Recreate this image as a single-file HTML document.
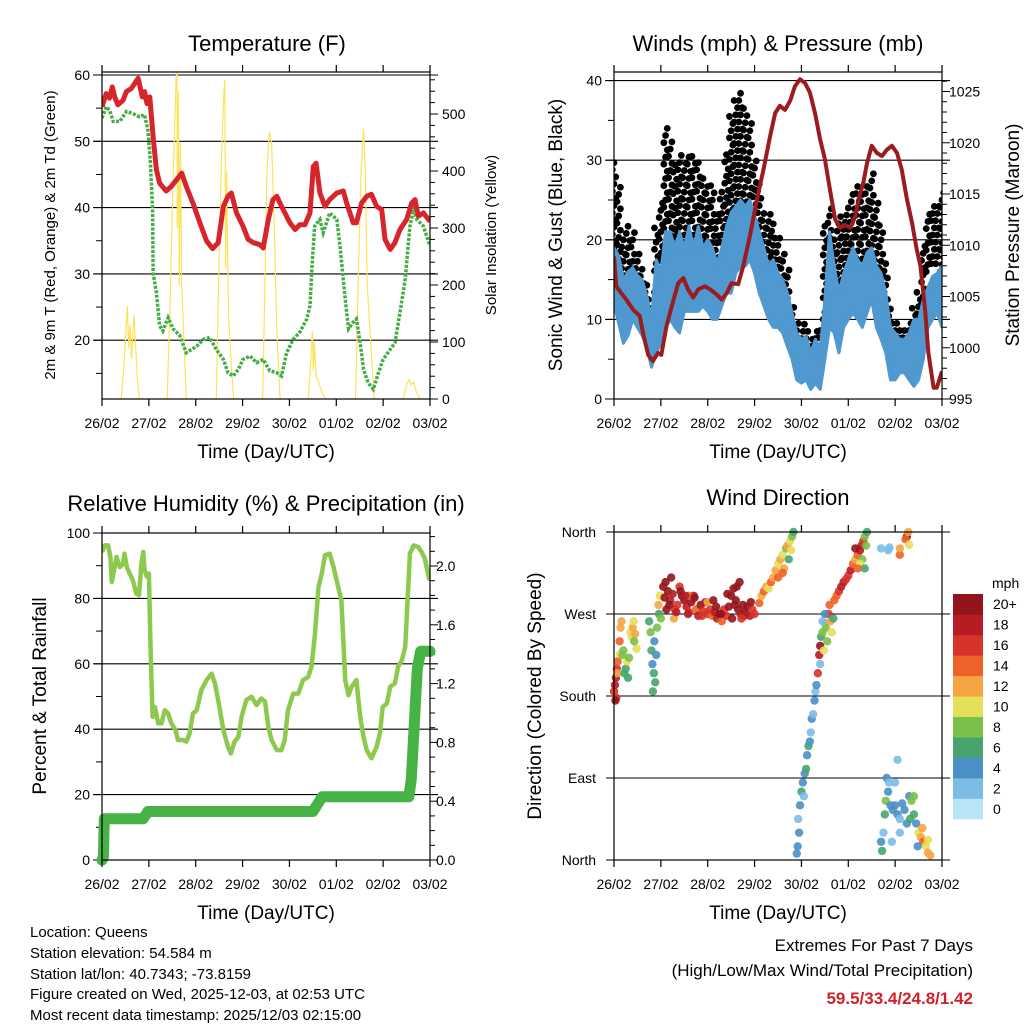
<!DOCTYPE html>
<html><head><meta charset="utf-8"><style>
html,body{margin:0;padding:0;background:#fff;}
svg{display:block;font-family:"Liberation Sans",Arial,sans-serif;}
</style></head><body>
<svg id="c" width="1024" height="1024" viewBox="0 0 1024 1024" xmlns="http://www.w3.org/2000/svg">
<defs>
<clipPath id="cp1"><rect x="102" y="72" width="328" height="327"/></clipPath>
<clipPath id="cp2"><rect x="614" y="72" width="328" height="327"/></clipPath>
<clipPath id="cp3"><rect x="102" y="533" width="328" height="327"/></clipPath>
<clipPath id="cp4"><rect x="606" y="526" width="344" height="340"/></clipPath>
</defs>
<g id="g1"></g>
<g id="g2"></g>
<g id="g3"></g>
<g id="g4"></g>
<g font-size="22" text-anchor="middle" fill="#000">
<text x="267" y="51">Temperature (F)</text>
<text x="778" y="51">Winds (mph) &amp; Pressure (mb)</text>
<text x="266" y="511">Relative Humidity (%) &amp; Precipitation (in)</text>
<text x="778" y="505">Wind Direction</text>
</g>
<g font-size="19" text-anchor="middle">
<text x="266" y="458">Time (Day/UTC)</text>
<text x="778" y="458">Time (Day/UTC)</text>
<text x="266" y="919">Time (Day/UTC)</text>
<text x="778" y="919">Time (Day/UTC)</text>
<text transform="translate(55,235) rotate(-90)" font-size="15">2m &amp; 9m T (Red, Orange) &amp; 2m Td (Green)</text>
<text transform="translate(496,235) rotate(-90)" font-size="15">Solar Insolation (Yellow)</text>
<text transform="translate(562,235) rotate(-90)">Sonic Wind &amp; Gust (Blue, Black)</text>
<text transform="translate(1019,235) rotate(-90)">Station Pressure (Maroon)</text>
<text transform="translate(46,696) rotate(-90)">Percent &amp; Total Rainfall</text>
<text transform="translate(541,696) rotate(-90)">Direction (Colored By Speed)</text>
</g>
<g font-size="15">
<text x="30" y="937">Location: Queens</text>
<text x="30" y="958">Station elevation: 54.584 m</text>
<text x="30" y="979">Station lat/lon: 40.7343; -73.8159</text>
<text x="30" y="999">Figure created on Wed, 2025-12-03, at 02:53 UTC</text>
<text x="30" y="1020">Most recent data timestamp: 2025/12/03 02:15:00</text>
</g>
<g text-anchor="end">
<text x="973" y="951" font-size="17">Extremes For Past 7 Days</text>
<text x="973" y="976" font-size="17">(High/Low/Max Wind/Total Precipitation)</text>
<text x="973" y="1004" font-size="17" font-weight="bold" fill="#d0202a">59.5/33.4/24.8/1.42</text>
</g>
</svg>
<script>
const dayLabels=["26/02","27/02","28/02","29/02","30/02","01/02","02/02","03/02"];
const tempT=[0,.09,.16,.22,.27,.34,.45,.52,.63,.77,.86,.91,.96,1.02,1.09,1.16,1.23,1.37,1.48,1.59,1.70,1.80,1.94,2.09,2.23,2.36,2.48,2.59,2.69,2.76,2.87,3.01,3.12,3.23,3.37,3.44,3.55,3.65,3.73,3.83,4.01,4.12,4.22,4.33,4.44,4.51,4.57,4.65,4.76,4.86,5.01,5.15,5.22,5.36,5.43,5.54,5.65,5.75,5.86,5.97,6.04,6.15,6.25,6.36,6.50,6.61,6.68,6.75,6.86,7.0];
const tempV=[55.2,57.2,56.5,58.2,56.7,55.5,56.2,57.5,58.0,59.5,56.7,57.5,55.7,56.7,50.7,45.7,43.7,42.5,43.2,44.2,45.2,43.2,40.7,37.7,35.0,33.8,34.7,40.2,41.7,42.2,39.2,37.2,35.2,34.7,34.4,33.9,38.2,41.2,41.7,40.2,37.7,36.7,37.4,37.4,39.2,46.2,46.7,42.2,40.2,41.2,42.2,42.5,40.7,37.7,37.7,40.7,41.7,42.0,40.2,39.7,35.2,33.7,34.7,36.7,38.2,40.7,41.2,38.7,39.2,37.9];
const dewT=[0,.09,.16,.24,.38,.52,.66,.80,.91,.98,1.03,1.08,1.09,1.16,1.23,1.30,1.41,1.52,1.66,1.80,1.91,2.02,2.16,2.30,2.44,2.59,2.69,2.80,2.91,3.01,3.16,3.30,3.44,3.58,3.73,3.83,3.94,4.08,4.22,4.37,4.44,4.49,4.54,4.65,4.72,4.86,5.01,5.08,5.19,5.26,5.36,5.43,5.51,5.58,5.68,5.79,5.90,6.00,6.15,6.25,6.36,6.47,6.57,6.65,6.72,6.86,7.0];
const dewV=[53.5,55.2,54.7,53.0,53.0,54.5,54.2,53.7,54.0,51.7,47.2,39.7,30.2,27.2,22.2,21.4,23.4,21.7,20.7,18.1,18.6,19.1,20.1,20.4,18.6,17.1,15.1,14.6,15.6,17.1,17.6,16.6,17.1,15.4,15.1,14.6,18.1,20.1,21.2,23.2,25.2,32.2,37.2,38.2,36.2,39.2,38.2,34.2,26.2,21.7,22.7,23.2,19.6,15.6,13.6,12.6,15.1,17.1,18.6,19.6,24.2,29.2,37.2,39.7,38.2,37.2,34.2];
const solarT=[.41,.47,.54,.57,.60,.63,.68,.72,.76,.80,1.39,1.45,1.50,1.53,1.56,1.58,1.60,1.61,1.63,1.65,1.67,1.70,1.74,1.80,2.44,2.50,2.55,2.59,2.62,2.64,2.66,2.70,2.76,2.81,3.43,3.48,3.52,3.57,3.62,3.67,3.73,3.80,4.40,4.45,4.49,4.51,4.53,4.57,4.62,4.70,4.78,5.41,5.48,5.53,5.58,5.62,5.66,5.72,5.81,6.43,6.50,6.55,6.60,6.65,6.72,6.79];
const solarV=[0,60,163,90,130,70,148,90,30,0,0,150,330,420,500,560,580,300,540,200,450,200,120,0,0,250,420,520,560,230,400,150,60,0,0,220,400,468,450,320,120,0,0,60,119,50,100,40,30,10,0,0,250,400,475,400,200,120,0,0,25,34,25,30,10,0];
const presT=[0,.05,.16,.26,.41,.55,.62,.73,.83,.94,1.01,1.12,1.23,1.37,1.48,1.58,1.69,1.80,1.94,2.05,2.19,2.30,2.40,2.51,2.65,2.76,2.90,3.04,3.19,3.33,3.44,3.54,3.65,3.76,3.86,3.97,4.08,4.18,4.29,4.40,4.50,4.61,4.72,4.83,4.93,5.04,5.15,5.22,5.32,5.40,5.50,5.61,5.72,5.82,5.93,6.04,6.14,6.25,6.36,6.46,6.54,6.64,6.71,6.82,6.89,7.0];
const presV=[1008.9,1006.0,1005.3,1004.7,1003.7,1003.1,1001.4,999.3,998.7,999.5,999.3,1002.1,1004.0,1006.3,1006.8,1005.7,1004.9,1005.7,1006.0,1005.7,1005.2,1004.7,1005.3,1006.3,1006.2,1008.0,1010.9,1014.2,1017.4,1020.6,1022.9,1023.6,1023.2,1024.1,1025.5,1026.2,1025.8,1024.9,1022.9,1020.3,1018.4,1015.4,1012.5,1011.7,1012.0,1011.7,1012.8,1014.5,1016.1,1018.0,1019.7,1019.0,1018.7,1019.3,1019.7,1019.0,1017.4,1014.5,1012.2,1009.6,1008.0,1003.7,999.5,996.1,996.1,997.7];
const windT=[0,.1,.2,.3,.4,.5,.6,.7,.8,.9,1,1.1,1.2,1.3,1.4,1.5,1.6,1.7,1.8,1.9,2,2.1,2.2,2.3,2.4,2.5,2.6,2.7,2.8,2.9,3,3.1,3.2,3.3,3.4,3.5,3.6,3.7,3.8,3.9,4,4.1,4.2,4.3,4.4,4.5,4.6,4.7,4.8,4.9,5,5.1,5.2,5.3,5.4,5.5,5.6,5.7,5.8,5.9,6,6.1,6.2,6.3,6.4,6.5,6.6,6.7,6.8,6.9,7];
const windLo=[12,9.5,7,8,10,9,8,6.5,4,5.8,7,9,10,9,8.3,11,11,11,11,11.7,11,10,10,11.7,13.3,13.3,15.8,16.7,16.7,17.5,15.8,13.3,11.7,10,9,9,8.3,6.6,5,2.4,2,2.4,1.2,2,1.2,5,9,8.3,5.8,9,10,10.8,10,9,10.8,12.5,9,7.5,5.8,2.4,2.4,3.3,3.3,2.4,1.6,2.4,5,9,10,10.8,9];
const windHi=[19,18,15,16,16.5,15.5,15,13,10,17.5,16,21,21,19,21,19,21.7,19,21.7,19,20,19,17,19,21.7,23.4,24.2,25,24.2,25,23,21,19,16.7,17.5,15.8,15,13.3,10.8,8.3,7.5,7.9,5.8,7.5,6.2,12.5,21,16.7,13.3,15.8,17.5,19,17.5,16.7,18.4,19,16.7,15.8,13.3,9,8.3,7.5,7.5,8.3,10,10,12.5,14,15.4,15.8,16.7];
const gustLo=[18,14,11,10,11,11,10,8,6,8,12,16,17,15,18,17,16,17,18,16,15,16,16,17,19,22,24,24,23,22,20,18,17,16,13,13,11,9,7,5,4,4,3,4,5,10,14,11,13,15,15,14,15,14,15,13,12,11,8,5,5,5,5,5,6,8,12,16,17,17,16];
const gustHi=[30,27,20,22,21,19,17,15,12,22,25,34,33,30,31,30,31,31,30,28,27,27,24,26,31,36,38,39,37,35,30,27,24,24,22,21,19,17,12,10,9,10,8,9,9,22,24,20,23,23,24,26,27,26,27,29,25,22,17,12,10,9,9,10,12,14,20,24,25,25,26];
const rhT=[0,.06,.13,.18,.21,.27,.31,.38,.45,.48,.53,.59,.66,.73,.79,.84,.88,.91,.96,1.00,1.04,1.08,1.13,1.20,1.27,1.34,1.41,1.48,1.57,1.62,1.73,1.80,1.87,1.94,2.02,2.12,2.23,2.34,2.41,2.48,2.59,2.69,2.75,2.83,2.91,2.98,3.08,3.19,3.30,3.40,3.48,3.55,3.62,3.73,3.83,3.90,3.97,4.08,4.19,4.29,4.40,4.47,4.54,4.62,4.69,4.76,4.86,4.94,5.04,5.11,5.19,5.26,5.33,5.43,5.51,5.58,5.65,5.75,5.86,5.93,5.99,6.08,6.15,6.25,6.32,6.40,6.47,6.50,6.57,6.65,6.75,6.82,6.89,6.97,7.0];
const rhV=[94.2,96.2,96.2,92.7,85.0,89.6,92.7,89.6,90.6,93.7,89.6,87.6,85.5,81.5,81.0,90.6,94.2,88.6,86.6,87.6,63.1,43.8,46.8,41.8,41.8,45.8,44.8,41.8,39.7,36.7,36.7,36.2,38.7,44.8,45.8,51.9,55.0,57.0,54.0,48.9,39.7,34.6,32.6,36.2,37.7,43.8,48.9,49.9,47.4,49.4,48.4,40.7,36.7,33.6,33.6,36.7,45.8,50.9,50.9,55.0,56.0,59.1,68.2,83.5,87.6,93.2,93.7,89.6,83.5,79.4,55.0,50.4,53.0,55.0,43.8,37.7,33.6,31.1,34.6,38.7,46.8,47.9,53.0,54.0,59.1,61.1,65.2,73.3,93.7,96.2,95.7,94.2,92.2,86.6,85.5];
const precT=[0,.03,.05,.88,.98,4.50,4.70,6.55,6.60,6.67,6.73,6.80,7.0];
const precV=[0,.02,.28,.28,.33,.33,.43,.43,.55,.95,1.30,1.42,1.42];
const dirT=[0,.02,.04,.05,.06,.08,.03,.07,.12,.14,.16,.13,.18,.20,.25,.28,.32,.35,.38,.40,.42,.45,.48,.30,.22,.43,.75,.78,.80,.82,.85,.88,.83,.86,.9,.95,.98,.96,.92,1.0,1.05,1.1,1.15,1.2,1.25,1.3,1.35,1.4,1.45,1.5,1.55,1.6,1.65,1.7,1.75,1.8,1.85,1.9,1.95,2.0,2.05,2.1,2.15,2.2,2.25,2.3,2.35,2.4,2.45,2.5,2.55,2.6,2.65,2.7,2.75,2.8,2.85,2.9,2.95,3.0,1.22,1.28,2.52,2.62,1.6,2.0,3.1,3.15,3.2,3.25,3.3,3.35,3.4,3.45,3.5,3.55,3.6,3.63,3.67,3.7,3.73,3.76,3.8,3.83,3.78,3.5,3.6,3.9,3.92,3.95,3.93,3.97,4.0,4.03,4.05,4.07,4.1,4.12,4.15,4.18,4.2,4.22,4.25,4.28,4.3,4.32,4.35,4.38,4.4,4.42,4.45,4.48,4.5,4.52,4.55,4.58,4.6,4.62,4.65,4.68,4.5,4.45,4.4,4.7,4.75,4.8,4.85,4.9,4.95,5.0,5.05,5.1,5.15,5.2,5.25,5.28,5.32,5.35,5.4,5.38,5.3,5.25,5.35,5.2,5.15,5.7,5.85,5.88,6.1,6.1,6.25,6.22,6.28,6.3,5.7,5.72,5.75,5.78,5.8,5.85,5.9,5.95,6.0,6.05,6.1,6.15,6.2,6.25,6.3,6.35,6.4,6.45,6.5,6.55,6.6,6.65,6.7,6.75,5.82,5.87,6.05,6.0,6.4,6.32,6.1,5.93,6.48,6.58,6.7,1.08,1.18,1.33,1.42,1.58,1.72,1.88,2.12,2.28,2.42,2.58,2.68,2.78,2.92,1.12,1.52,2.18,2.72];
const dirDeg=[185,192,200,178,210,218,175,205,240,255,262,226,225,230,210,218,222,250,245,255,262,248,232,200,205,240,262,250,230,215,205,195,185,240,225,280,290,270,255,265,300,305,295,285,292,275,280,300,290,285,278,272,283,290,275,268,280,273,283,270,275,268,272,265,270,262,275,268,278,290,298,285,275,270,280,272,278,268,275,270,310,265,265,300,290,283,282,290,295,300,298,305,310,318,325,330,335,320,342,345,330,350,355,360,340,310,315,7,15,30,45,60,75,85,70,95,100,115,125,130,140,155,160,175,185,192,205,225,235,245,250,230,260,255,240,270,280,262,250,265,270,262,215,285,290,295,300,305,308,312,318,325,330,335,340,345,350,355,360,345,330,325,320,320,342,342,340,343,335,342,355,352,360,346,20,10,30,50,65,75,60,55,60,50,45,62,55,40,70,65,50,40,30,25,20,15,8,5,90,85,110,85,70,45,30,20,15,35,22,288,280,272,295,270,288,268,285,270,292,280,305,268,283,275,290,278,265];
const dirSpd=[17,18,19,16,17,15,20,12,14,13,12,10,8,9,6,10,9,11,10,12,10,13,11,7,6,9,7,8,6,5,6,6,7,4,4,12,10,6,8,9,20,21,20,18,19,16,17,17,20,21,18,16,20,19,15,18,20,17,18,16,17,15,19,18,20,14,17,16,20,21,22,20,21,19,20,21,20,19,17,17,21,13,22,21,14,12,14,13,14,12,11,14,13,12,11,13,10,12,9,12,7,11,8,7,10,15,14,4,4,4,3,5,6,4,3,4,6,5,7,4,3,4,2,5,2,5,16,18,20,7,9,10,13,8,8,16,14,12,10,6,4,3,3,14,15,17,19,18,16,17,18,14,12,15,18,19,17,8,6,9,8,10,6,14,20,2,2,2,14,12,20,14,12,10,5,6,3,6,8,4,4,4,4,4,3,4,4,4,4,8,6,4,10,12,14,10,12,13,4,3,3,2,8,6,2,3,4,12,11,21,20,18,21,19,20,17,21,20,22,21,20,18,21,20,19,21,16];
const speedColors=["#b7e4f7","#7cbce5","#4a8fc6","#48a46e","#7bc04b","#e6df5a","#f5a544","#ee6128","#d8322a","#b81c23","#921519"];
const speedLabels=["0","2","4","6","8","10","12","14","16","18","20+"];

const NS="http://www.w3.org/2000/svg";
function mk(parent,tag,attrs){const e=document.createElementNS(NS,tag);for(const k in attrs)e.setAttribute(k,attrs[k]);parent.appendChild(e);return e;}
function linePath(ts,vs,sx,sy){return ts.map((t,i)=>(i?"L":"M")+sx(t).toFixed(1)+","+sy(vs[i]).toFixed(1)).join("");}

function frame(g,x0,x1,y0,y1){
  const b=mk(g,"rect",{x:x0,y:y0,width:x1-x0,height:y1-y0,fill:"none",stroke:"#000","stroke-width":1.2});
  
  
  for(let i=0;i<=7;i++){
    const x=x0+i*(x1-x0)/7;
    mk(g,"line",{x1:x,x2:x,y1:y1,y2:y1+7,stroke:"#000","stroke-width":1.2});
    mk(g,"line",{x1:x,x2:x,y1:y0,y2:y0-7,stroke:"#000","stroke-width":1.2});
    const tl=mk(g,"text",{x:x,y:y1+29,"font-size":14,"text-anchor":"middle"});
    tl.textContent=dayLabels[i];
    
    
  }
}
function hgrid(g,x0,x1,y){mk(g,"line",{x1:x0-8,x2:x1+8,y1:y,y2:y,stroke:"#000","stroke-width":1.1});}
function ltick(g,x,y,len){mk(g,"line",{x1:x,x2:x-len,y1:y,y2:y,stroke:"#000","stroke-width":1});}
function rtick(g,x,y,len){mk(g,"line",{x1:x,x2:x+len,y1:y,y2:y,stroke:"#000","stroke-width":1});}
function label(g,x,y,txt,anchor,name){const t=mk(g,"text",{x:x,y:y+5,"font-size":14,"text-anchor":anchor});t.textContent=txt;return t;}

// Panel 1
(function(){
  const g=document.getElementById("g1");
  const x0=102,x1=430,y0=72,y1=399;
  const sx=t=>x0+t/7*(x1-x0), sy=v=>75+(60-v)*6.63, ss=s=>399-s*0.57;
  for(let v=60;v>=15;v-=5){ltick(g,x0,sy(v),v%10?6:9);}
  for(let v=20;v<=60;v+=10){hgrid(g,x0,x1,sy(v));label(g,x0-12,sy(v),String(v),"end","y-tick-label-temp");}
  for(let s=0;s<=560;s+=20){rtick(g,x1,ss(s),s%100?5:8);}
  for(let s=0;s<=500;s+=100){label(g,x1+12,ss(s),String(s),"start","y-tick-label-solar");}
  const c=mk(g,"g",{"clip-path":"url(#cp1)"});
  let d="";
  for(let i=0;i<solarT.length;i++){
    const brk=i===0||(solarV[i]===0&&solarV[i-1]===0);
    d+=(brk?"M":"L")+sx(solarT[i]).toFixed(1)+","+ss(solarV[i]).toFixed(1);
  }
  const sp=mk(c,"path",{d:d,fill:"none",stroke:"#fde25a","stroke-width":1.2});
  
  
  const dp=mk(c,"path",{d:linePath(dewT,dewV,sx,sy),fill:"none",stroke:"#46ad46","stroke-width":3.5,"stroke-dasharray":"3 1.5"});
  
  
  const tp=mk(c,"path",{d:linePath(tempT,tempV,sx,sy),fill:"none",stroke:"#d7262b","stroke-width":5,"stroke-linejoin":"round"});
  
  
  frame(g,x0,x1,y0,y1);
})();

// Panel 2
(function(){
  const g=document.getElementById("g2");
  const x0=614,x1=942,y0=72,y1=399;
  const sx=t=>x0+t/7*(x1-x0), sy=w=>399-w*7.96, sp=p=>399-(p-995)*10.25;
  for(let v=0;v<=40;v+=5){ltick(g,x0,sy(v),v%10?6:9);}
  for(let v=10;v<=40;v+=10){hgrid(g,x0,x1,sy(v));}
  for(let v=0;v<=40;v+=10){label(g,x0-12,sy(v),String(v),"end","y-tick-label-wind");}
  for(let p=995;p<=1026;p++){rtick(g,x1,sp(p),p%5?5:8);}
  for(let p=995;p<=1025;p+=5){label(g,x1+7,sp(p),String(p),"start","y-tick-label-pressure");}
  const c=mk(g,"g",{"clip-path":"url(#cp2)"});
  const gg=mk(c,"g",{fill:"#000"});
  
  
  for(let i=0;i<windT.length;i++){
    let k=0;
    for(let v=gustLo[i];v<=gustHi[i];v+=0.9){
      const dot=mk(gg,"circle",{cx:sx(windT[i])+((k%3)-1)*1.7,cy:sy(v),r:3.4});
      
      
      k++;
    }
  }
  let d="";
  for(let i=0;i<windT.length;i++)d+=(i?"L":"M")+sx(windT[i]).toFixed(1)+","+sy(windHi[i]).toFixed(1);
  for(let i=windT.length-1;i>=0;i--)d+="L"+sx(windT[i]).toFixed(1)+","+sy(windLo[i]).toFixed(1);
  const band=mk(c,"path",{d:d+"Z",fill:"#4f98d0",stroke:"#4f98d0","stroke-width":3,"stroke-linejoin":"round"});
  
  
  const pl=mk(c,"path",{d:linePath(presT,presV,sx,sp),fill:"none",stroke:"#9b1c1f","stroke-width":4,"stroke-linejoin":"round"});
  
  
  frame(g,x0,x1,y0,y1);
})();

// Panel 3
(function(){
  const g=document.getElementById("g3");
  const x0=102,x1=430,y0=533,y1=860;
  const sx=t=>x0+t/7*(x1-x0), sy=r=>860-r*3.27, sr=p=>860-p*147;
  for(let v=0;v<=100;v+=10){ltick(g,x0,sy(v),v%20?6:9);}
  for(let v=20;v<=80;v+=20){hgrid(g,x0,x1,sy(v));}
  for(let v=0;v<=100;v+=20){label(g,x0-12,sy(v),String(v),"end","y-tick-label-rh");}
  for(let p=0;p<=22;p++){rtick(g,x1,sr(p/10),p%4?5:8);}
  ["0.0","0.4","0.8","1.2","1.6","2.0"].forEach((s,i)=>label(g,x1+6,sr(i*0.4),s,"start","y-tick-label-precip"));
  const c=mk(g,"g",{"clip-path":"url(#cp3)"});
  const rl=mk(c,"path",{d:linePath(rhT,rhV,sx,sy),fill:"none",stroke:"#8ec94f","stroke-width":4.5,"stroke-linejoin":"round"});
  
  
  const pr=mk(g,"path",{d:linePath(precT,precV,sx,sr),fill:"none",stroke:"#47b347","stroke-width":11,"stroke-linejoin":"round","stroke-linecap":"round"});
  
  
  frame(g,x0,x1,y0,y1);
})();

// Panel 4
(function(){
  const g=document.getElementById("g4");
  const x0=614,x1=942,y0=532,y1=860;
  const sx=t=>x0+t/7*(x1-x0), sy=d=>860-d*(328/360);
  const names=["North","East","South","West","North"];
  for(let i=0;i<=4;i++){
    const y=sy(i*90);
    hgrid(g,x0,x1,y);
    label(g,x0-18,y,names[i],"end","y-tick-label-direction");
  }
  const c=mk(g,"g",{"clip-path":"url(#cp4)"});
  for(let i=0;i<dirT.length;i++){
    const idx=Math.min(10,Math.floor(dirSpd[i]/2));
    const p=mk(c,"circle",{cx:sx(dirT[i]),cy:sy(dirDeg[i]),r:4.2,fill:speedColors[idx],"fill-opacity":0.9});
    
    
  }
  frame(g,x0,x1,y0,y1);
  const cb=mk(g,"g",{});
  
  
  const bh=225/11;
  for(let i=0;i<11;i++){
    const y=819-(i+1)*bh;
    const r=mk(cb,"rect",{x:953,y:y,width:30,height:bh+0.3,fill:speedColors[i]});
    
    
    label(cb,993,y+bh/2,speedLabels[i],"start","colorbar-label");
  }
  const m=mk(cb,"text",{x:992,y:588,"font-size":14});
  m.textContent="mph";
  
  
})();
</script>
</body></html>
